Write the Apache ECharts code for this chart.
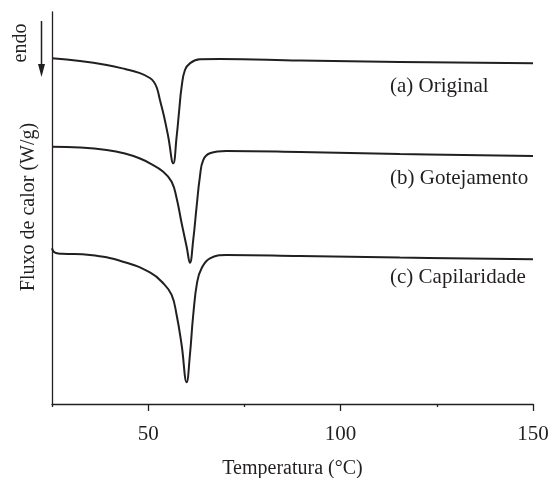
<!DOCTYPE html>
<html>
<head>
<meta charset="utf-8">
<script src="https://cdn.jsdelivr.net/npm/echarts/dist/echarts.min.js"></script>
<style>html,body{margin:0;padding:0;background:#fff;}#c{width:551px;height:478px;}</style>
</head>
<body>
<div id="c"></div>
<script>
// Temperature (°C) and heat flow (arbitrary units, curves offset vertically)
const tempA = [25.0, 32.27, 39.21, 43.96, 47.86, 50.45, 51.49, 52.27, 53.05, 54.09, 55.21, 56.51, 57.39, 58.06, 58.69, 59.55, 60.84, 63.44, 68.64, 89.42, 115.39, 150];
const flowA = [88.19, 87.50, 86.48, 85.46, 84.40, 83.16, 82.14, 80.61, 77.55, 73.47, 68.19, 61.40, 68.19, 75.00, 80.94, 85.20, 86.91, 87.93, 88.01, 87.63, 87.24, 86.91];

const tempB = [25.0, 32.27, 39.21, 43.96, 47.86, 50.45, 53.91, 56.09, 57.39, 58.69, 59.99, 60.84, 61.70, 62.58, 63.44, 64.30, 66.04, 70.38, 89.42, 115.39, 150];
const flowB = [65.64, 65.43, 64.80, 63.90, 62.63, 61.40, 59.26, 56.71, 52.47, 46.10, 40.13, 36.05, 41.84, 50.33, 57.98, 62.24, 63.95, 64.54, 64.29, 63.78, 63.27];

const tempC = [25.0, 25.39, 26.04, 27.60, 34.87, 43.44, 50.45, 53.91, 56.09, 57.39, 58.69, 59.99, 60.84, 61.70, 62.74, 63.88, 66.04, 70.38, 89.42, 115.39, 150];
const flowC = [39.72, 38.90, 38.52, 38.34, 38.01, 36.30, 33.55, 30.79, 27.81, 22.70, 15.05, 5.54, 12.50, 22.70, 31.20, 34.62, 37.17, 38.01, 37.76, 37.37, 36.91];

const seriesNames = ['(a) Original', '(b) Gotejamento', '(c) Capilaridade'];
const majorTicks = [50, 100, 150];
const minorTicks = [25, 75, 125];
const xTitle = 'Temperatura (°C)';
const yTitle = 'Fluxo de calor (W/g)';
const endoText = 'endo';

const FONT = '"Liberation Serif", "DejaVu Serif", serif';
const INK = '#231f20';

function zip(xs, ys) { return xs.map((x, i) => [x, ys[i]]); }

const chart = echarts.init(document.getElementById('c'), null, {renderer: 'canvas'});

const lineStyle = {color: INK, width: 2};
const mkSeries = (name, data) => ({
  name, type: 'line', data, smooth: 0.45,
  showSymbol: false, symbol: 'none', lineStyle, xAxisIndex: 0, yAxisIndex: 0, silent: true
});

chart.setOption({
  animation: false,
  backgroundColor: '#fff',
  grid: {left: 52, right: 18, top: 12, bottom: 74, containLabel: false, outerBoundsMode: 'none'},
  xAxis: [{
    type: 'value', min: 25, max: 150, interval: 25,
    axisLine: {show: true, lineStyle: {color: INK, width: 1.3}},
    axisTick: {show: true, length: 3, customValues: minorTicks, lineStyle: {color: INK, width: 1.3}},
    axisLabel: {show: true, customValues: majorTicks, margin: 20, color: INK, fontFamily: FONT, fontSize: 21},
    splitLine: {show: false},
    name: xTitle, nameLocation: 'middle', nameGap: 55,
    nameTextStyle: {color: INK, fontFamily: FONT, fontSize: 20}
  }, {
    type: 'value', min: 25, max: 150, interval: 25, position: 'bottom',
    axisLine: {show: false},
    axisTick: {show: true, length: 7, customValues: majorTicks, lineStyle: {color: INK, width: 1.3}},
    axisLabel: {show: false},
    splitLine: {show: false}
  }],
  yAxis: {
    type: 'value', min: 0, max: 100,
    axisLine: {show: true, lineStyle: {color: INK, width: 1.3}},
    axisTick: {show: false}, axisLabel: {show: false}, splitLine: {show: false}
  },
  series: [
    mkSeries(seriesNames[0], zip(tempA, flowA)),
    mkSeries(seriesNames[1], zip(tempB, flowB)),
    mkSeries(seriesNames[2], zip(tempC, flowC))
  ],
  graphic: [
    {type: 'text', x: 29, y: 207, rotation: Math.PI / 2,
      style: {text: yTitle, fill: INK, font: '20px ' + FONT, textAlign: 'center', textVerticalAlign: 'middle'}},
    {type: 'text', x: 21, y: 43, rotation: Math.PI / 2,
      style: {text: endoText, fill: INK, font: '20px ' + FONT, textAlign: 'center', textVerticalAlign: 'middle'}},
    {type: 'line', shape: {x1: 41.5, y1: 21, x2: 41.5, y2: 66}, style: {stroke: INK, lineWidth: 1.5}},
    {type: 'polygon', shape: {points: [[38, 64], [45, 64], [41.5, 77]]}, style: {fill: INK}},
    {type: 'text', x: 390, y: 86,
      style: {text: seriesNames[0], fill: INK, font: '21px ' + FONT, textAlign: 'left', textVerticalAlign: 'middle'}},
    {type: 'text', x: 390, y: 178,
      style: {text: seriesNames[1], fill: INK, font: '21px ' + FONT, textAlign: 'left', textVerticalAlign: 'middle'}},
    {type: 'text', x: 390, y: 277,
      style: {text: seriesNames[2], fill: INK, font: '21px ' + FONT, textAlign: 'left', textVerticalAlign: 'middle'}}
  ]
});
</script>
</body>
</html>
